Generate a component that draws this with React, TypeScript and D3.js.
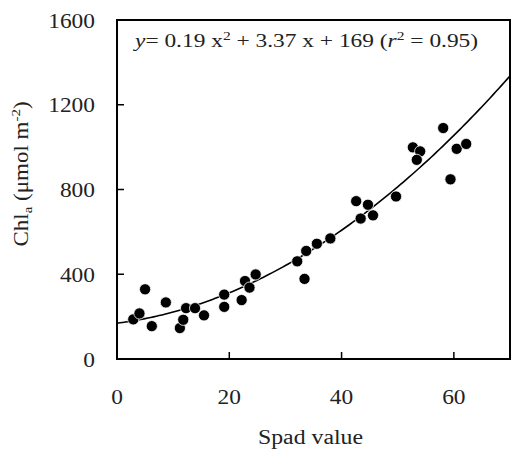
import React from "react";
import * as d3 from "d3";

const spadX = [2.9, 4.0, 5.0, 6.2, 8.7, 11.2, 11.8, 12.3, 13.9, 15.5, 19.1, 19.1, 22.2, 22.8, 23.6, 24.7, 32.1, 33.4, 33.7, 35.6, 38.0, 42.6, 44.7, 43.4, 45.6, 49.7, 52.7, 54.0, 53.4, 58.1, 59.4, 60.5, 62.2];
const chlY = [187, 215, 329, 155, 267, 146, 185, 240, 240, 206, 304, 246, 278, 368, 337, 399, 461, 378, 510, 544, 569, 745, 728, 663, 678, 767, 999, 980, 940, 1090, 848, 992, 1015];
const xTicks = [0, 20, 40, 60];
const yTicks = [0, 400, 800, 1200, 1600];
const coef = [0.19, 3.37, 169];

const W = 511, H = 451;
const left = 117, right = 510, top = 20, bottom = 359;
const digitW = 11.7;

export default function App() {
  const x = d3.scaleLinear().domain([0, 70]).range([left, right]);
  const y = d3.scaleLinear().domain([0, 1600]).range([bottom, top]);
  const fitX = d3.range(0, 70.01, 0.5);
  const line = d3.line<number>().x((d) => x(d)).y((d) => y(coef[0] * d * d + coef[1] * d + coef[2]));
  const font = "'Liberation Serif', 'Times New Roman', serif";
  return (
    <svg width={W} height={H} style={{ position: "absolute", left: 0, top: 0 }} fontFamily={font}>
      <rect width={W} height={H} fill="#fff" />
      <defs>
        <clipPath id="clip">
          <rect x={left} y={top} width={right - left} height={bottom - top} />
        </clipPath>
      </defs>
      <path d={line(fitX) || ""} fill="none" stroke="#000" strokeWidth={1.6} clipPath="url(#clip)" />
      {spadX.map((v, i) => (
        <circle key={i} cx={x(v)} cy={y(chlY[i])} r={5.6} fill="#000" stroke="#fff" strokeWidth={0.8} />
      ))}
      <rect x={left} y={top} width={right - left} height={bottom - top} fill="none" stroke="#000" strokeWidth={2} />
      {xTicks.map((t) => (
        <g key={"x" + t}>
          {t > 0 && <line x1={x(t)} x2={x(t)} y1={bottom} y2={bottom - 7} stroke="#000" strokeWidth={1.5} />}
          <text x={x(t)} y={404} textAnchor="middle" fontSize={22} fill="#222"
            textLength={String(t).length * digitW} lengthAdjust="spacingAndGlyphs">{t}</text>
        </g>
      ))}
      {yTicks.map((t) => (
        <g key={"y" + t}>
          {t > 0 && t < 1600 && <line x1={left} x2={left + 7} y1={y(t)} y2={y(t)} stroke="#000" strokeWidth={1.5} />}
          <text x={95 - String(t).length * digitW} y={y(t) + 7.5} fontSize={22} fill="#222"
            textLength={String(t).length * digitW} lengthAdjust="spacingAndGlyphs">{t}</text>
        </g>
      ))}
      <text x={258} y={444} fontSize={20} fill="#222" textLength={105} lengthAdjust="spacingAndGlyphs">Spad value</text>
      <text transform={`translate(28,174) rotate(-90) scale(1.15,1)`} textAnchor="middle" fontSize={20} fill="#222">
        Chl<tspan fontSize={13} dy={4}>a</tspan><tspan dy={-4}> (μmol m</tspan><tspan fontSize={13} dy={-8}>-2</tspan><tspan dy={8}>)</tspan>
      </text>
      <g transform="translate(135,47) scale(1.3,1)">
        <text x={0} y={0} fontSize={18} fill="#222">
          <tspan fontStyle="italic">y</tspan>= 0.19 x<tspan fontSize={12} dy={-7}>2</tspan><tspan dy={7}> + 3.37 x + 169 (</tspan><tspan fontStyle="italic">r</tspan><tspan fontSize={12} dy={-7}>2</tspan><tspan dy={7}> = 0.95)</tspan>
        </text>
      </g>
    </svg>
  );
}
